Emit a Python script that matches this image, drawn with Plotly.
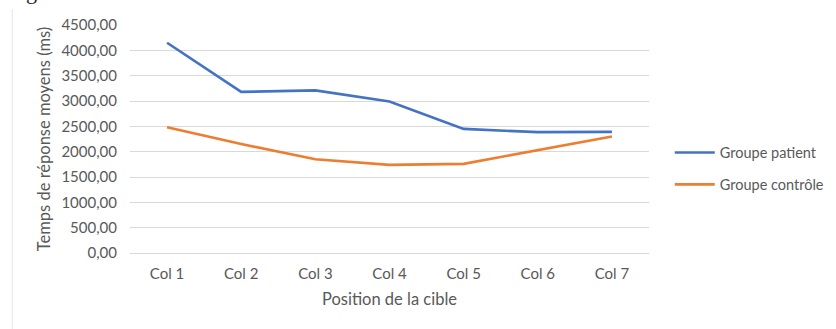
import plotly.graph_objects as go

categories = ["Col 1", "Col 2", "Col 3", "Col 4", "Col 5", "Col 6", "Col 7"]
patient = [4150, 3180, 3210, 2990, 2450, 2385, 2390]
controle = [2480, 2150, 1850, 1740, 1760, 2030, 2300]
y_ticks = [0, 500, 1000, 1500, 2000, 2500, 3000, 3500, 4000, 4500]

FONT = "Lato, 'Open Sans', sans-serif"
GREY = "#595959"

fig = go.Figure()
fig.add_trace(go.Scatter(
    x=categories, y=patient, mode="lines", name="Groupe patient",
    line=dict(color="#4472C4", width=2.6), legendgroup="a",
))
fig.add_trace(go.Scatter(
    x=categories, y=controle, mode="lines", name="Groupe contrôle",
    line=dict(color="#ED7D31", width=2.6), legendgroup="b",
))

fig.update_layout(
    width=836, height=329,
    margin=dict(l=130, r=187, t=25, b=76, autoexpand=False),
    paper_bgcolor="white", plot_bgcolor="white",
    separators=", ",
    font=dict(family=FONT, size=14, color=GREY),
    legend=dict(
        x=1.04, xanchor="left", y=0.37, yanchor="middle",
        traceorder="grouped", tracegroupgap=10,
        font=dict(family=FONT, size=14.5, color=GREY),
        itemwidth=40,
    ),
    xaxis=dict(
        type="category", range=[-0.5, 6.5],
        showgrid=False, showline=False, ticks="",
        ticklabelstandoff=10,
        tickfont=dict(family=FONT, size=15, color=GREY),
        title=dict(text="Position de la cible", standoff=12,
                   font=dict(family=FONT, size=16.5, color=GREY)),
    ),
    yaxis=dict(
        range=[0, 4500], tickvals=y_ticks, tickformat=".2f",
        showgrid=True, gridcolor="#d9d9d9", gridwidth=1,
        zeroline=True, zerolinecolor="#d9d9d9", zerolinewidth=1,
        showline=False, ticks="", ticklen=0,
        ticklabelstandoff=12,
        tickfont=dict(family=FONT, size=15, color=GREY),
        title=dict(text="Temps de réponse moyens (ms)", standoff=6,
                   font=dict(family=FONT, size=16.5, color=GREY)),
    ),
)

# light frame edge on the left of the chart area
fig.add_shape(type="line", xref="paper", yref="paper",
              x0=-0.227, x1=-0.227, y0=-0.35, y1=1.07,
              line=dict(color="#e6e6e6", width=1))

# tail of the caption line above the chart, cut by the top edge
fig.add_annotation(text="g", xref="paper", yref="paper",
                   x=-0.189, y=1.085, xanchor="center", yanchor="bottom",
                   showarrow=False,
                   font=dict(family="Liberation Serif, serif", size=22,
                             color="#222222"))

fig.write_html("out.html")
